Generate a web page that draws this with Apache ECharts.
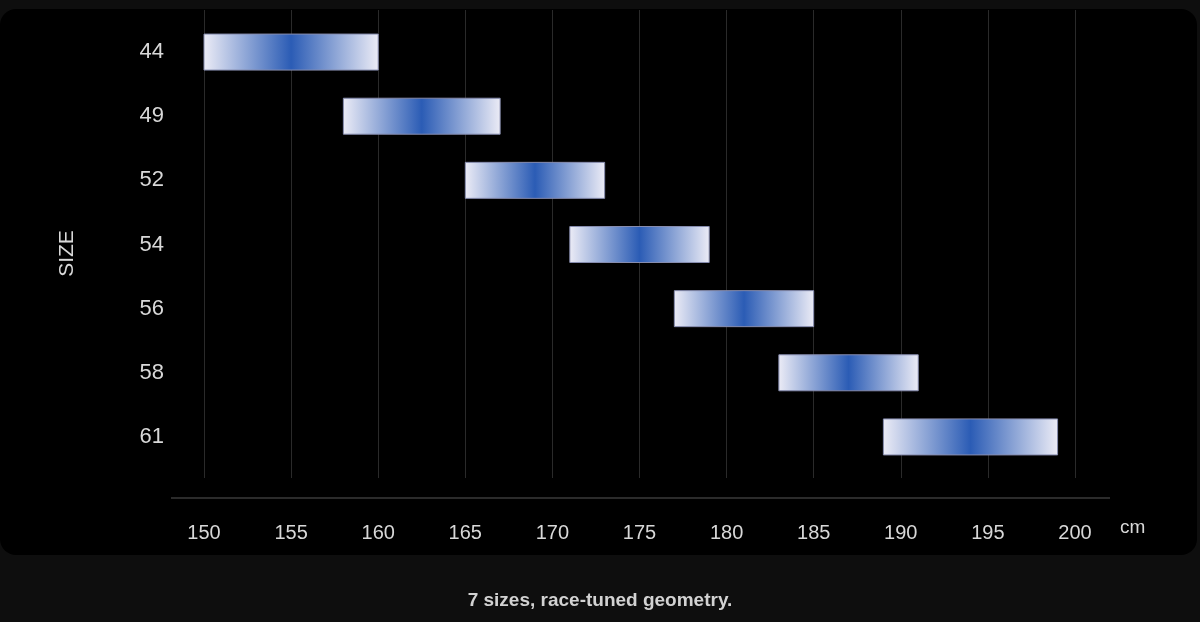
<!DOCTYPE html>
<html>
<head>
<meta charset="utf-8">
<script src="https://cdn.jsdelivr.net/npm/echarts@6/dist/echarts.min.js"></script>
<style>
  html, body { margin: 0; padding: 0; background: #0e0e0e; }
  #wrap { position: relative; width: 1200px; height: 622px; }
  #panel { position: absolute; left: 0; top: 9px; width: 1197px; height: 546px; background: #000; border-radius: 16px; }
  #chart { position: absolute; left: 0; top: 0; width: 1200px; height: 622px; }
</style>
</head>
<body>
<div id="wrap">
  <div id="panel"></div>
  <div id="chart"></div>
</div>
<script>
// frame sizes and the rider height range (cm) each one fits
const sizes = ['44', '49', '52', '54', '56', '58', '61'];
const heightFrom = [150, 158, 165, 171, 177, 183, 189];
const heightTo = [160, 167, 173, 179, 185, 191, 199];
const xTicks = { min: 150, max: 200, step: 5 };

const font = 'Liberation Sans, Arial, Helvetica, sans-serif';

// rows for the custom series: [size index, from, to]
const rows = sizes.map((s, i) => [i, heightFrom[i], heightTo[i]]);

const barFill = new echarts.graphic.LinearGradient(0, 0, 1, 0, [
    { offset: 0, color: '#ececf6' },
    { offset: 0.5, color: '#2b5cb5' },
    { offset: 1, color: '#ececf6' }
]);

const chart = echarts.init(document.getElementById('chart'), null, { renderer: 'canvas' });

const option = {
    backgroundColor: 'transparent',
    animation: false,
    textStyle: { fontFamily: font },
    title: {
        text: '7 sizes, race-tuned geometry.',
        left: 'center',
        top: 586,
        textStyle: { color: '#d2d2d2', fontSize: 19, fontWeight: 'bold', fontFamily: font }
    },
    grid: [
        // bars
        { left: 204, width: 871, top: 20, height: 449 },
        // vertical grid lines and x labels
        { left: 204, width: 871, top: 10, height: 468 }
    ],
    xAxis: [
        {
            gridIndex: 0, type: 'value',
            min: xTicks.min, max: xTicks.max, interval: xTicks.step,
            show: false
        },
        {
            gridIndex: 1, type: 'value',
            min: xTicks.min, max: xTicks.max, interval: xTicks.step,
            axisLine: { show: false },
            axisTick: { show: false },
            splitLine: { show: true, lineStyle: { color: '#2a2a2a', width: 1 } },
            axisLabel: { color: '#d8d8d8', fontSize: 20, margin: 45, fontFamily: font }
        }
    ],
    yAxis: [
        {
            gridIndex: 0, type: 'category', data: sizes, inverse: true,
            axisLine: { show: false },
            axisTick: { show: false },
            splitLine: { show: false },
            axisLabel: { color: '#d8d8d8', fontSize: 22, margin: 40, fontFamily: font },
            name: 'SIZE',
            nameLocation: 'middle',
            nameGap: 126,
            nameTextStyle: { color: '#d8d8d8', fontSize: 21, fontFamily: font, padding: [0, 18, 0, 0] }
        },
        { gridIndex: 1, type: 'value', show: false }
    ],
    graphic: [
        {
            type: 'line',
            shape: { x1: 171, y1: 498, x2: 1110, y2: 498 },
            style: { stroke: '#2b2b2b', lineWidth: 2 }
        },
        {
            type: 'text',
            x: 1120, y: 528,
            style: { text: 'cm', fill: '#d8d8d8', fontSize: 19, fontFamily: font, verticalAlign: 'middle' }
        }
    ],
    series: [
        {
            type: 'custom',
            xAxisIndex: 0,
            yAxisIndex: 0,
            encode: { y: 0, x: [1, 2] },
            data: rows,
            renderItem: function (params, api) {
                const a = api.coord([api.value(1), api.value(0)]);
                const b = api.coord([api.value(2), api.value(0)]);
                const h = 36;
                return {
                    type: 'rect',
                    shape: { x: a[0], y: a[1] - h / 2, width: b[0] - a[0], height: h },
                    style: { fill: barFill, stroke: '#868cae', lineWidth: 1 }
                };
            }
        }
    ]
};

chart.setOption(option);
</script>
</body>
</html>
